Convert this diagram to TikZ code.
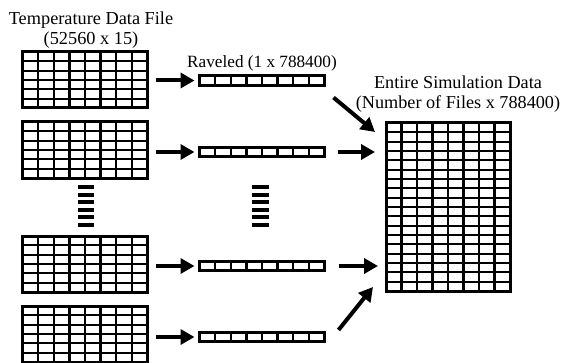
\documentclass[tikz,border=0pt]{standalone}
\usepackage{fontspec}
\setmainfont{Liberation Serif}
\usetikzlibrary{calc, arrows.meta}

\begin{document}
\begin{tikzpicture}[x=1pt,y=1pt]
% grid of cells drawn inside a node
\tikzset{datagrid/.style n args={4}{draw, line width=3pt, inner sep=0pt, outer sep=0pt,
  minimum width=#1, minimum height=#2,
  path picture={
    \pgfmathtruncatemacro\lastc{#3-1}
    \pgfmathtruncatemacro\lastr{#4-1}
    \foreach \c in {1,...,\lastc} {
      \draw[line width=2.3pt] ($(path picture bounding box.north west)!\c/#3!(path picture bounding box.north east)$)
        -- ($(path picture bounding box.south west)!\c/#3!(path picture bounding box.south east)$);
    }
    \foreach \r in {1,...,\lastr} {
      \draw[line width=2.3pt] ($(path picture bounding box.north west)!\r/#4!(path picture bounding box.south west)$)
        -- ($(path picture bounding box.north east)!\r/#4!(path picture bounding box.south east)$);
    }
  }}}
\tikzset{flow/.style={line width=4pt, -{Triangle[length=14pt,width=15pt]}}}
\tikzset{label/.style={align=center, inner sep=0pt}}
\useasboundingbox (0,0) rectangle (562,362);
% the data files
\node[datagrid={125pt}{56pt}{8}{6}] (f1) at (85,282) {};
\node[datagrid={125pt}{56pt}{8}{6}] (f2) at (85,212) {};
\node[datagrid={125pt}{56pt}{8}{6}] (f3) at (85,98) {};
\node[datagrid={125pt}{56pt}{8}{6}] (f4) at (85,28) {};
% raveled rows
\node[datagrid={125pt}{9.5pt}{8}{1}] (r1) at (262,281.5) {};
\node[datagrid={125pt}{9.5pt}{8}{1}] (r2) at (262,210) {};
\node[datagrid={125pt}{9.5pt}{8}{1}] (r3) at (262,96) {};
\node[datagrid={125pt}{9.5pt}{8}{1}] (r4) at (262,25) {};
% whole simulation
\node[datagrid={124pt}{168pt}{8}{18}] (sim) at (448,155) {};
% the dots
\foreach \k in {0,...,5} {
\draw[line width=4pt] (78,{175-7.6*\k}) -- (94,{175-7.6*\k});
\draw[line width=4pt] (252,{175-7.6*\k}) -- (269,{175-7.6*\k});
}
% labels
\node[label, font=\fontsize{18.3pt}{19.5pt}\selectfont] (tfile) at (91,332) {Temperature Data File\\(52560 x 15)};
\node[label, font=\fontsize{17.2pt}{20pt}\selectfont, anchor=base] (rlabel) at (262,294) {Raveled (1 x 788400)};
\node[label, font=\fontsize{18.2pt}{20pt}\selectfont] (slabel) at (458,268) {Entire Simulation Data\\(Number of Files x 788400)};
% arrows
\foreach \i in {1,...,4} {
\draw[flow, shorten <=8pt, shorten >=5pt] (f\i.east |- r\i) -- (r\i.west);
}
\draw[flow] ($(r1.east)+(9,-17)$) -- ($(sim.north west)+(-11,-9)$);
\draw[flow, shorten <=13pt, shorten >=11pt] (r2.east) -- (r2.east -| sim.west);
\draw[flow, shorten <=14pt, shorten >=8pt] (r3.east) -- (r3.east -| sim.west);
\draw[flow] ($(r4.east)+(14,7)$) -- ($(sim.south west)+(-13,4)$);
\end{tikzpicture}
\end{document}
